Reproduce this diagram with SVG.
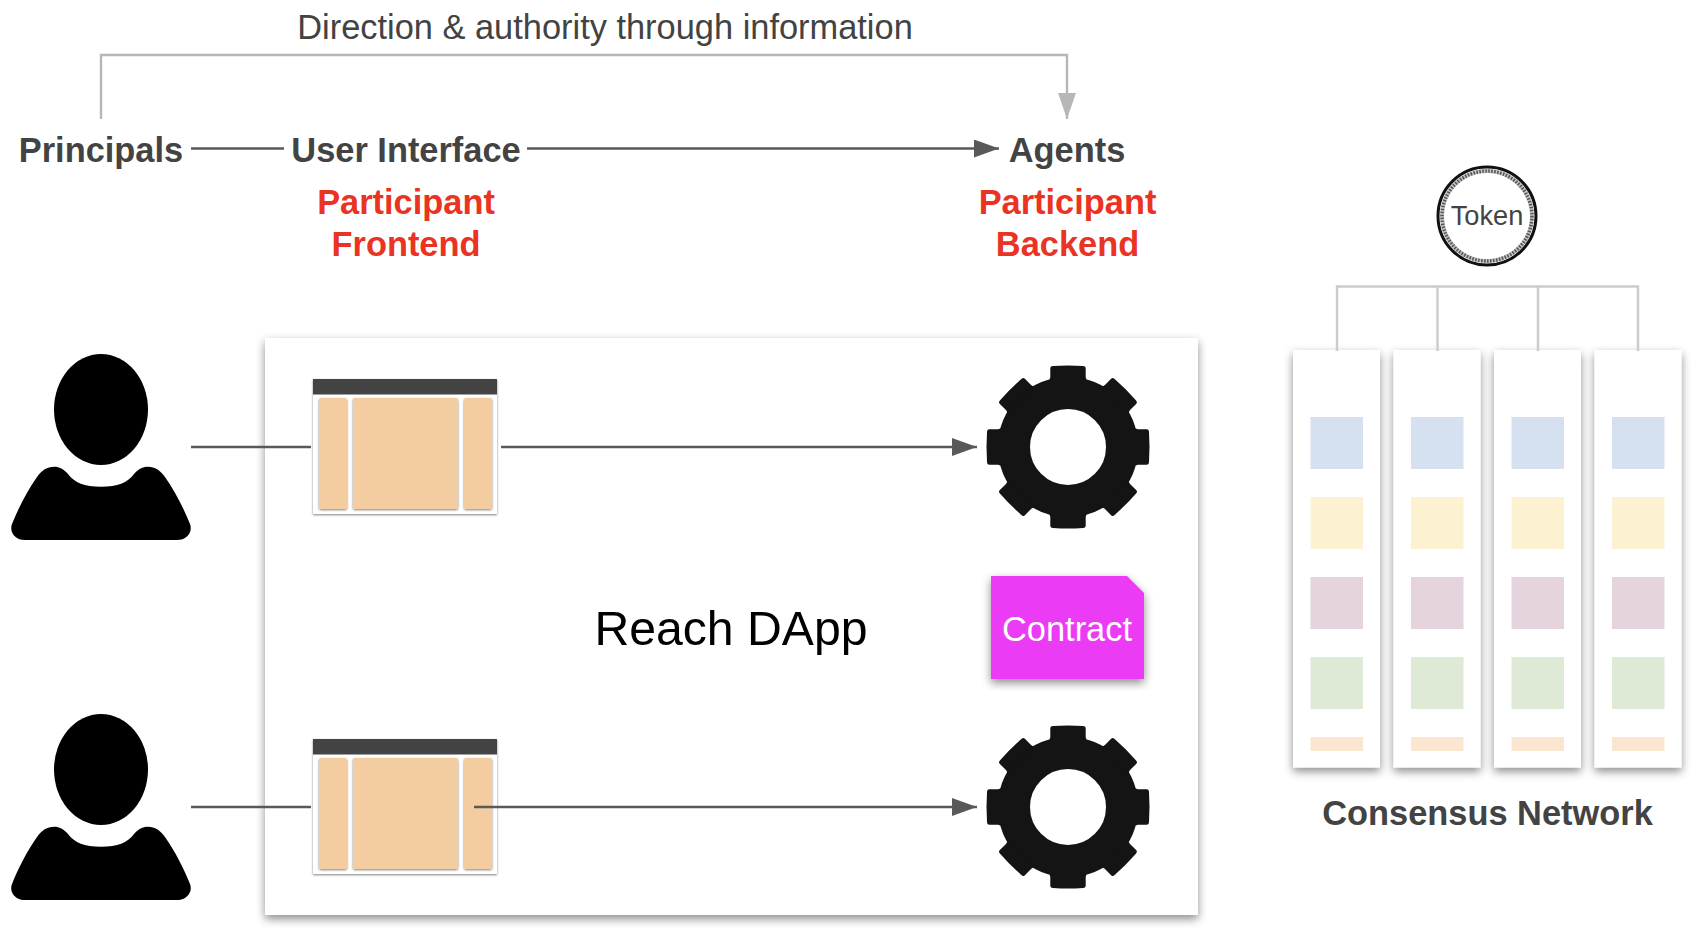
<svg xmlns="http://www.w3.org/2000/svg" xmlns:xlink="http://www.w3.org/1999/xlink" width="1698" height="928" viewBox="0 0 1698 928">
<style>
text{font-family:"Liberation Sans",Arial,sans-serif;font-size:34.4px;text-anchor:middle}
.b{font-weight:bold;fill:#434343}
.r{font-weight:bold;fill:#ea3323}
.lg{fill:none;stroke:#b7b7b7;stroke-width:2.400}
.ln{fill:none;stroke:#595959;stroke-width:2.400}
.tk{fill:none;stroke:#cccccc;stroke-width:2.400}
.p{fill:#f3cda0;filter:url(#s1)}
.c{fill:#fff;filter:url(#s3)}
.q1{fill:#d5e1f0}.q2{fill:#fcf1d0}.q3{fill:#e5d3de}.q4{fill:#dee9d6}.q5{fill:#fbe6d2}
</style>
<defs>
<filter id="s1" x="-20%" y="-20%" width="140%" height="140%"><feDropShadow dx="0" dy="1" stdDeviation="1" flood-color="#000" flood-opacity=".5"/></filter>
<filter id="s3" x="-30%" y="-10%" width="160%" height="120%"><feDropShadow dx="0" dy="4" stdDeviation="5" flood-color="#000" flood-opacity=".45"/></filter>
<marker id="ag" markerUnits="userSpaceOnUse" markerWidth="26" markerHeight="18" refX="26" refY="9" orient="auto" viewBox="0 0 26 18"><path d="M0 0L26 9L0 18Z" fill="#b7b7b7"/></marker>
<marker id="ad" markerUnits="userSpaceOnUse" markerWidth="25" markerHeight="18" refX="25" refY="9" orient="auto" viewBox="0 0 25 18"><path d="M0 0L25 9L0 18Z" fill="#595959"/></marker>
<g id="person"><ellipse cx="101" cy="409.500" rx="47" ry="55.500"/><path d="M101 486.700C118 486.700 127 483 134 474C139 468 144 466.700 148 466.700C155 466.700 160 470 165 477C175 491 184 509 190 524C193 532 187 540 177 540L25 540C15 540 9 532 12 524C18 509 27 491 37 477C42 470 47 466.700 54 466.700C58 466.700 63 468 68 474C75 483 84 486.700 101 486.700Z"/></g>
<g id="window"><rect x="313" y="379" width="184" height="135" fill="#fff" filter="url(#s1)"/><rect x="313" y="379" width="184" height="15.500" fill="#434343"/><rect class="p" x="319" y="398" width="28" height="111" rx="2"/><rect class="p" x="353" y="398" width="105" height="111" rx="2"/><rect class="p" x="464" y="398" width="28" height="111" rx="2"/></g>
<g id="gear" fill="#141414"><circle cx="1068" cy="447" r="54" fill="none" stroke="#141414" stroke-width="32"/><g id="t2"><path id="t" transform="translate(1068 447)" d="M-20 -66Q-18 -67 -17.700 -70L-17.700 -79Q-17.700 -81 -15 -81Q0 -82 15 -81Q17.700 -81 17.700 -79L17.700 -70Q18 -67 20 -66Z"/><use xlink:href="#t" href="#t" transform="rotate(180 1068 447)"/></g><use href="#t2" xlink:href="#t2" transform="rotate(45 1068 447)"/><use href="#t2" xlink:href="#t2" transform="rotate(90 1068 447)"/><use href="#t2" xlink:href="#t2" transform="rotate(135 1068 447)"/></g>
<g id="col"><rect class="c" x="1293" y="350" width="87" height="417.500"/><rect class="q1" x="1310.500" y="417" width="52.500" height="52"/><rect class="q2" x="1310.500" y="497" width="52.500" height="52"/><rect class="q3" x="1310.500" y="577" width="52.500" height="52"/><rect class="q4" x="1310.500" y="657" width="52.500" height="52"/><rect class="q5" x="1310.500" y="737" width="52.500" height="14"/></g>
</defs>
<rect width="1698" height="928" fill="#fff"/>
<g id="reach-dapp"><rect x="265" y="338" width="933" height="577" fill="#fff" filter="url(#s3)"/><text x="731" y="645" style="font-size:48.2px" fill="#000">Reach DApp</text></g>
<g id="labels">
<text x="605" y="39" fill="#434343">Direction &amp; authority through information</text>
</g>
<g id="principals"><text class="b" x="101" y="161.500">Principals</text></g>
<g id="user-interface"><text class="b" x="406" y="161.500">User Interface</text><text class="r" x="406" y="213.500">Participant</text><text class="r" x="406" y="255.500">Frontend</text></g>
<g id="agents"><text class="b" x="1067" y="161.500">Agents</text><text class="r" x="1067.500" y="213.500">Participant</text><text class="r" x="1067.500" y="255.500">Backend</text></g>
<g id="person-1"><use href="#person" xlink:href="#person"/></g>
<g id="person-2"><use href="#person" xlink:href="#person" y="360"/></g>
<g id="window-1"><use href="#window" xlink:href="#window"/></g>
<g id="window-2"><use href="#window" xlink:href="#window" y="360"/></g>
<g id="gear-1"><use href="#gear" xlink:href="#gear"/></g>
<g id="gear-2"><use href="#gear" xlink:href="#gear" y="360"/></g>
<g id="contract"><path d="M991 576H1127L1144 593V679H991Z" fill="#ec3bf4" filter="url(#s3)"/><text x="1067" y="641" fill="#fff">Contract</text></g>
<g id="token"><circle cx="1487" cy="216" r="49" fill="#fff" stroke="#111" stroke-width="3"/><circle cx="1487" cy="216" r="45" fill="none" stroke="#c4c4c4" stroke-width="4"/><circle cx="1487" cy="216" r="45" fill="none" stroke="#555" stroke-width="3.500" stroke-dasharray="1.500 1.500"/><text x="1487" y="225" style="font-size:27.2px" fill="#434343">Token</text></g>
<g id="column-1"><use href="#col" xlink:href="#col"/></g>
<g id="column-2"><use href="#col" xlink:href="#col" x="100.500"/></g>
<g id="column-3"><use href="#col" xlink:href="#col" x="201"/></g>
<g id="column-4"><use href="#col" xlink:href="#col" x="301.500"/></g>
<g id="consensus"><text class="b" x="1487.500" y="824.500">Consensus Network</text></g>
<g id="connectors">
<path class="lg" d="M101 119V55H1067V119" marker-end="url(#ag)"/>
<path class="ln" d="M191 148.500H284"/>
<path class="ln" d="M527 148.500H999" marker-end="url(#ad)"/>
<path class="ln" d="M191 447H311"/>
<path class="ln" d="M501 447H977" marker-end="url(#ad)"/>
<path class="ln" d="M191 807H311"/>
<path class="ln" d="M474 807H977" marker-end="url(#ad)"/>
<path class="tk" d="M1337 351V286.500H1638V351M1437.500 286.500V351M1538 286.500V351"/>
</g>
</svg>
